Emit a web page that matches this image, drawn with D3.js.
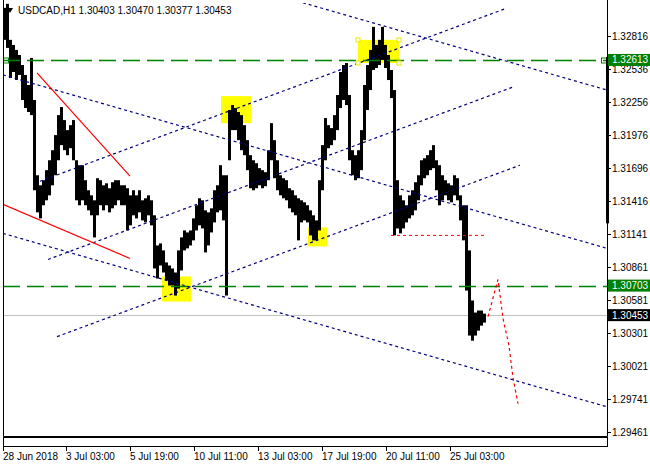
<!DOCTYPE html>
<html><head><meta charset="utf-8">
<script src="https://cdn.jsdelivr.net/npm/d3@7"></script>
<style>body{margin:0;background:#fff;} svg{display:block;font-family:"Liberation Sans",Arial,sans-serif;}</style>
</head><body><svg id="c" width="650" height="467"></svg>
<script>
// ---------- data ----------
const symbol = "USDCAD,H1";
const lastOHLC = [1.30403, 1.30470, 1.30377, 1.30453];
const barStepHours = 3;
const barHigh = [1.33054,1.33088,1.32783,1.32740,1.32698,1.32655,1.32570,1.32486,1.32401,1.32630,
1.32274,1.31637,1.31552,1.31595,1.31680,1.31764,1.31849,1.31977,1.32146,1.32214,
1.32104,1.32019,1.32061,1.32104,1.31764,1.31722,1.31722,1.31595,1.31510,1.31467,
1.31425,1.31612,1.31595,1.31552,1.31569,1.31527,1.31578,1.31595,1.31595,1.31552,
1.31552,1.31527,1.31467,1.31510,1.31467,1.31510,1.31425,1.31442,1.31467,1.31425,
1.31298,1.31043,1.31060,1.31001,1.30899,1.30873,1.30848,1.30814,1.31001,1.31111,
1.31170,1.31153,1.31170,1.31272,1.31383,1.31442,1.31425,1.31340,1.31323,1.31357,
1.31510,1.31552,1.31722,1.31637,1.31637,1.32189,1.32231,1.32206,1.32172,1.32146,
1.32061,1.31934,1.31807,1.31764,1.31739,1.31697,1.31680,1.31663,1.31849,1.32078,
1.31934,1.31764,1.31637,1.31612,1.31595,1.31527,1.31510,1.31467,1.31442,1.31425,
1.31408,1.31383,1.31340,1.31298,1.31255,1.31595,1.31892,1.32121,1.32061,1.32036,
1.32146,1.32316,1.32511,1.32570,1.32587,1.32316,1.31849,1.31807,1.31849,1.32019,
1.32401,1.32570,1.32698,1.32893,1.32740,1.32783,1.32893,1.32740,1.32655,1.32528,
1.32358,1.31595,1.31467,1.31425,1.31383,1.31467,1.31510,1.31578,1.31637,1.31764,
1.31781,1.31807,1.31849,1.31892,1.31764,1.31722,1.31637,1.31595,1.31569,1.31552,
1.31637,1.31612,1.31467,1.31383,1.31383,1.31001,1.30577,1.30475,1.30492,1.30492,
1.30466];
const barLow = [1.32783,1.32715,1.32460,1.32511,1.32443,1.32486,1.32274,1.32206,1.32172,1.32146,
1.31510,1.31323,1.31272,1.31383,1.31425,1.31467,1.31552,1.31637,1.31764,1.31892,
1.31849,1.31807,1.31866,1.31764,1.31425,1.31383,1.31425,1.31383,1.31340,1.31298,
1.31111,1.31298,1.31383,1.31340,1.31383,1.31323,1.31357,1.31383,1.31425,1.31383,
1.31383,1.31170,1.31213,1.31298,1.31272,1.31323,1.31255,1.31238,1.31298,1.31213,
1.30848,1.30763,1.30873,1.30814,1.30746,1.30704,1.30704,1.30619,1.30678,1.30831,
1.31001,1.31018,1.31043,1.31086,1.31170,1.31213,1.31187,1.30984,1.31043,1.31153,
1.31238,1.31323,1.31340,1.31255,1.30619,1.31764,1.32019,1.32019,1.31934,1.31849,
1.31807,1.31680,1.31527,1.31510,1.31527,1.31552,1.31527,1.31544,1.31595,1.31764,
1.31612,1.31510,1.31467,1.31442,1.31425,1.31357,1.31323,1.31298,1.31086,1.31238,
1.31255,1.31238,1.31128,1.31086,1.31086,1.31170,1.31510,1.31764,1.31866,1.31892,
1.31934,1.32019,1.32206,1.32274,1.32231,1.31764,1.31637,1.31595,1.31612,1.31680,
1.31934,1.32189,1.32358,1.32528,1.32545,1.32570,1.32613,1.32545,1.32443,1.32290,
1.31128,1.31187,1.31145,1.31187,1.31238,1.31272,1.31298,1.31340,1.31425,1.31552,
1.31612,1.31637,1.31680,1.31697,1.31510,1.31383,1.31425,1.31467,1.31425,1.31408,
1.31467,1.31425,1.31255,1.31086,1.30661,1.30280,1.30237,1.30280,1.30322,1.30364,
1.30390];
const priceTicks = [1.32816,1.32536,1.32256,1.31976,1.31696,1.31416,1.31141,1.30861,1.30581,1.30301,1.30021,1.29741,1.29461];
const timeTickHours = [0,63,127,191,255,319,383,447];
const timeTickLabels = ["28 Jun 2018","3 Jul 03:00","5 Jul 19:00","10 Jul 11:00","13 Jul 03:00","17 Jul 19:00","20 Jul 11:00","25 Jul 03:00"];
const hLevels = [1.32613, 1.30703];
const bidPrice = 1.30453;
const descChannel = [[[0,1.33826],[604,1.32358]],[[0,1.32486],[604,1.31018]],[[0,1.31145],[604,1.29677]]];
const ascChannel = [[[37,1.31586],[502,1.33046]],[[45,1.30924],[510,1.32384]],[[54,1.30271],[517,1.31722]]];
const redLines = [[[34,1.32503],[127,1.31629]],[[0,1.31391],[127,1.30933]]];
const redLevel = [[388,1.31128],[482,1.31128]];
const forecast = [[485,1.30441],[495,1.30755],[500,1.30424],[506,1.30195],[510,1.29923],[515,1.29703]];
const boxes = [[159,188,1.30780,1.30568],[218,248,1.32307,1.32078],[355,396,1.32783,1.32587],[305,324,1.31196,1.31035]];
const scaleBar = [1.32638, 1.31230];

// ---------- layout ----------
const L = 3, R = 607, T = 3, B = 436;
const svg = d3.select("#c");
const x = d3.scaleLinear().domain([0, 604]).range([L, R]);
const y = d3.scaleLinear().domain([1.29430, 1.33095]).range([B, T]);
const line = d3.line().x(d => x(d[0])).y(d => y(d[1]));

svg.append("defs").append("clipPath").attr("id","pc").append("rect")
  .attr("x",L).attr("y",T).attr("width",R-L).attr("height",B-T);
const g = svg.append("g").attr("clip-path","url(#pc)");

// yellow boxes
g.selectAll("rect.box").data(boxes).enter().append("rect")
  .attr("x",d=>x(d[0])).attr("width",d=>x(d[1])-x(d[0]))
  .attr("y",d=>y(d[2])).attr("height",d=>y(d[3])-y(d[2]))
  .attr("fill","#ffff00");

// bid line
g.append("line").attr("x1",L).attr("x2",R).attr("y1",Math.round(y(bidPrice))+0.5).attr("y2",Math.round(y(bidPrice))+0.5)
  .attr("stroke","#c0c0c0").attr("stroke-width",1);

// price bars
g.selectAll("rect.bar").data(barHigh).enter().append("rect")
  .attr("x",(d,i)=>x(i*barStepHours)).attr("width",(d,i)=>x((i+1)*barStepHours)-x(i*barStepHours))
  .attr("y",d=>y(d)).attr("height",(d,i)=>Math.max(1,y(barLow[i])-y(d)))
  .attr("fill","#000");

// green levels
g.selectAll("line.lvl").data(hLevels).enter().append("line")
  .attr("x1",L).attr("x2",R).attr("y1",d=>Math.round(y(d))+0.5).attr("y2",d=>Math.round(y(d))+0.5)
  .attr("stroke","#008000").attr("stroke-width",1.3).attr("stroke-dasharray","17,7");

// blue channels
g.selectAll("path.ch").data(descChannel.concat(ascChannel)).enter().append("path")
  .attr("d",line).attr("fill","none").attr("stroke","#000080").attr("stroke-width",1.2).attr("stroke-dasharray","3,3");

// red lines
g.selectAll("path.red").data(redLines).enter().append("path")
  .attr("d",line).attr("fill","none").attr("stroke","#ff0000").attr("stroke-width",1.2);
g.append("path").attr("d",line(redLevel)).attr("fill","none").attr("stroke","#ff0000").attr("stroke-width",1).attr("stroke-dasharray","3,3");
g.append("path").attr("d",line(forecast)).attr("fill","none").attr("stroke","#ff0000").attr("stroke-width",1.2).attr("stroke-dasharray","3,3");

// handles on selected box
const sb = boxes[2];
[[sb[0],sb[2]],[sb[1],sb[2]],[sb[0],sb[3]],[sb[1],sb[3]]].forEach(p=>{
  g.append("rect").attr("x",x(p[0])-2).attr("y",y(p[1])-2).attr("width",4).attr("height",4)
   .attr("fill","#fff").attr("stroke","#e8e800").attr("stroke-width",1);
});
// handles on selected level
[L+0.5, R-5.5].forEach(px=>{
  svg.append("rect").attr("x",px).attr("y",Math.round(y(hLevels[0]))-2).attr("width",5).attr("height",5)
   .attr("fill","none").attr("stroke","#008000").attr("stroke-width",1);
});

// frame
svg.append("path").attr("d",`M${L+0.5},0V${B+0.5}H${R+0.5}V0`).attr("fill","none").attr("stroke","#000");
svg.append("rect").attr("x",L+0.5).attr("y",B+1.5).attr("width",R-L).attr("height",9).attr("fill","none").attr("stroke","#000");

// thick bar on axis
svg.append("rect").attr("x",R-1).attr("width",3).attr("y",y(scaleBar[0])).attr("height",y(scaleBar[1])-y(scaleBar[0])).attr("fill","#000");

// price axis
const pa = svg.append("g");
priceTicks.forEach(p=>{
  const yy = Math.round(y(p))+0.5;
  pa.append("line").attr("x1",R).attr("x2",R+4).attr("y1",yy).attr("y2",yy).attr("stroke","#000");
  pa.append("text").attr("x",R+5).attr("y",yy).attr("dy","0.35em").attr("font-size","10px").attr("fill","#000").text(p.toFixed(5));
});
[[hLevels[0],"#008000"],[hLevels[1],"#008000"],[bidPrice,"#000"]].forEach(([p,c])=>{
  const yy = y(p);
  pa.append("rect").attr("x",R+1).attr("y",yy-6).attr("width",43).attr("height",12).attr("fill",c);
  pa.append("text").attr("x",R+5).attr("y",yy).attr("dy","0.35em").attr("font-size","10px").attr("fill","#fff").text(p.toFixed(5));
});

// time axis
const ta = svg.append("g");
timeTickHours.forEach((h,i)=>{
  const xx = Math.round(x(h))+0.5;
  ta.append("line").attr("x1",xx).attr("x2",xx).attr("y1",447).attr("y2",451).attr("stroke","#000");
  ta.append("text").attr("x",xx-0.5).attr("y",460).attr("font-size","10px").attr("fill","#000").text(timeTickLabels[i]);
});

// title
svg.append("path").attr("d","M7,8H13L10,13Z").attr("fill","#000");
svg.append("text").attr("x",18).attr("y",14).attr("font-size","10px").attr("fill","#000")
  .text(symbol + "  " + lastOHLC.map(v=>v.toFixed(5)).join(" "));
</script></body></html>
